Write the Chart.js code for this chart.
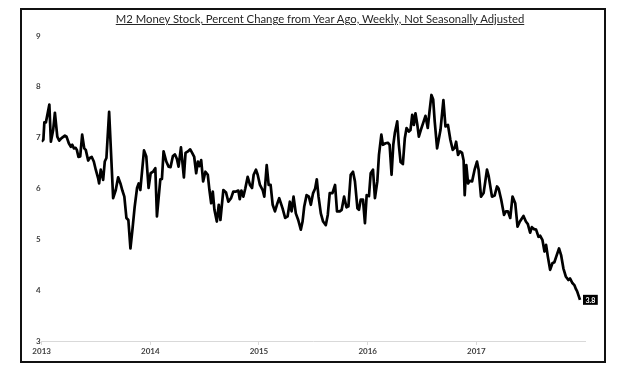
<!DOCTYPE html>
<html>
<head>
<meta charset="utf-8">
<script src="https://cdn.jsdelivr.net/npm/chart.js@4"></script>
<style>
  html, body { margin: 0; padding: 0; background: #fff; }
  #wrap { position: relative; width: 640px; height: 374px; }
  #chart { position: absolute; left: 0; top: 0; }
  #frame {
    position: absolute; left: 20px; top: 8px; width: 586px; height: 355px;
    box-sizing: border-box; border: 2px solid #111; pointer-events: none;
  }
  #title {
    position: absolute; left: 0; right: 0; top: 12px; text-align: center;
    font: 11.3px Lato, sans-serif; color: #262626; text-decoration: underline;
  }
</style>
</head>
<body>
<div id="wrap">
  <canvas id="chart" width="640" height="374"></canvas>
  <div id="frame"></div>
  <div id="title">M2 Money Stock, Percent Change from Year Ago, Weekly, Not Seasonally Adjusted</div>
</div>
<script>
// weekly observations, position in years since start of 2013
const yearOffset = [
  0.000, 0.016, 0.025, 0.039, 0.071, 0.085, 0.106, 0.122, 0.144, 0.162, 0.183, 0.214, 0.229, 0.250, 0.269, 0.282,
  0.296, 0.312, 0.324, 0.339, 0.355, 0.373, 0.392, 0.406, 0.428, 0.443, 0.461, 0.480, 0.498, 0.520, 0.529, 0.544,
  0.566, 0.581, 0.596, 0.621, 0.658, 0.682, 0.704,
  0.725, 0.743, 0.761, 0.780, 0.798, 0.817, 0.835, 0.856, 0.878, 0.893, 0.908, 0.942, 0.963, 0.984, 1.003, 1.025,
  1.046, 1.061, 1.092, 1.107, 1.122, 1.147, 1.168, 1.186, 1.208, 1.227, 1.245, 1.260, 1.282, 1.309, 1.324, 1.346,
  1.367, 1.385, 1.404, 1.422, 1.438, 1.452,
  1.468, 1.486, 1.507, 1.529, 1.544, 1.560, 1.575, 1.590, 1.612, 1.630, 1.645, 1.672, 1.697, 1.718, 1.743, 1.764,
  1.789, 1.810, 1.823, 1.838, 1.856, 1.874, 1.896, 1.917, 1.936, 1.951, 1.972, 1.988, 2.009, 2.034, 2.049, 2.071,
  2.089, 2.107, 2.126, 2.147, 2.165, 2.186,
  2.217, 2.241, 2.263, 2.284, 2.300, 2.318, 2.339, 2.361, 2.385, 2.401, 2.416, 2.438, 2.459, 2.477, 2.498, 2.517,
  2.532, 2.548, 2.569, 2.590, 2.615, 2.633, 2.651, 2.676, 2.700, 2.718, 2.743, 2.761, 2.783, 2.805, 2.823, 2.844,
  2.865, 2.883, 2.906,
  2.920, 2.936, 2.957, 2.975, 2.991, 3.012, 3.028, 3.049, 3.067, 3.089, 3.104, 3.126, 3.140, 3.165, 3.186, 3.202,
  3.220, 3.236, 3.250, 3.272, 3.287, 3.303, 3.324, 3.342, 3.358, 3.379, 3.394, 3.410, 3.425, 3.440, 3.456, 3.471,
  3.489, 3.511, 3.532, 3.553, 3.569, 3.587, 3.603, 3.617, 3.639,
  3.670, 3.697, 3.716, 3.739, 3.761, 3.783, 3.801, 3.814, 3.832, 3.850, 3.869, 3.883, 3.893, 3.908, 3.924, 3.939,
  3.961, 3.984, 4.006, 4.021, 4.043, 4.067, 4.098, 4.113, 4.144, 4.168, 4.190, 4.205, 4.229, 4.255, 4.272, 4.291,
  4.312, 4.333, 4.358, 4.379,
  4.401, 4.434, 4.456, 4.474, 4.495, 4.511, 4.532, 4.550, 4.572, 4.587, 4.608, 4.627, 4.642, 4.658, 4.679, 4.700,
  4.718, 4.740, 4.761, 4.780, 4.801, 4.823, 4.847, 4.862, 4.884, 4.902, 4.917, 4.927, 4.954
]

// M2 percent change from year ago
const m2Pct = [
  6.92, 6.96, 7.30, 7.30, 7.65, 6.92, 7.15, 7.49, 7.02, 6.94, 6.99, 7.04, 7.02, 6.89, 6.82, 6.86,
  6.79, 6.80, 6.76, 6.62, 6.63, 7.06, 6.79, 6.76, 6.55, 6.60, 6.62, 6.53, 6.37, 6.20, 6.10, 6.37,
  6.17, 6.53, 6.60, 7.51, 5.81, 5.97, 6.22,
  6.10, 5.96, 5.84, 5.42, 5.38, 4.82, 5.18, 5.64, 6.01, 6.10, 5.97, 6.75, 6.63, 6.01, 6.30, 6.33,
  6.40, 5.45, 6.18, 6.19, 6.73, 6.53, 6.43, 6.42, 6.64, 6.67, 6.58, 6.43, 6.81, 6.22, 6.70, 6.73,
  6.77, 6.70, 6.62, 6.30, 6.53, 6.44,
  6.56, 6.14, 6.33, 6.27, 5.97, 5.71, 5.94, 5.58, 5.35, 5.68, 5.38, 5.97, 5.92, 5.74, 5.81, 5.94,
  5.94, 5.96, 5.79, 5.96, 5.84, 6.00, 6.23, 6.07, 6.01, 6.27, 6.37, 6.27, 6.07, 5.97, 5.84, 6.46,
  6.07, 6.07, 5.68, 5.55, 5.68, 5.81,
  5.61, 5.42, 5.45, 5.74, 5.55, 5.84, 5.51, 5.38, 5.19, 5.35, 5.64, 5.87, 5.84, 5.68, 5.91, 6.00,
  6.18, 5.84, 5.51, 5.35, 5.28, 5.48, 5.91, 5.91, 6.07, 5.55, 5.55, 5.58, 5.84, 5.63, 5.65, 6.27,
  6.33, 6.14, 5.61,
  5.58, 5.78, 5.78, 5.32, 5.87, 5.85, 6.30, 6.37, 5.81, 6.14, 6.66, 7.06, 6.86, 6.89, 6.90, 6.86,
  6.27, 6.86, 7.09, 7.32, 6.86, 6.52, 6.48, 6.99, 7.19, 7.12, 7.15, 7.45, 7.25, 7.48, 7.27, 7.02,
  7.15, 7.29, 7.43, 7.19, 7.51, 7.84, 7.75, 7.32, 6.79,
  7.15, 7.74, 7.22, 7.25, 6.96, 6.76, 6.80, 6.92, 6.66, 6.73, 6.70, 6.55, 5.87, 6.46, 6.10, 6.15,
  6.14, 6.37, 6.53, 6.37, 5.84, 5.91, 6.37, 6.25, 5.84, 5.86, 6.04, 6.00, 5.78, 5.48, 5.55, 5.55,
  5.42, 5.84, 5.71, 5.25,
  5.35, 5.46, 5.35, 5.30, 5.13, 5.24, 5.20, 5.19, 5.05, 5.07, 4.99, 4.76, 4.89, 4.66, 4.40, 4.53,
  4.55, 4.69, 4.82, 4.69, 4.43, 4.27, 4.20, 4.23, 4.14, 4.10, 4.02, 3.98, 3.81
]

const startYear = 2013
const yearTicks = [2013, 2014, 2015, 2016, 2017]
const valueTicks = [3, 4, 5, 6, 7, 8, 9]

const tickFont = { family: 'Lato', size: 8, weight: 'bold' }

// black tag with the latest value next to the line end
const endLabel = {
  id: 'endLabel',
  afterDatasetsDraw(chart) {
    const meta = chart.getDatasetMeta(0)
    const pt = meta.data[meta.data.length - 1]
    const txt = m2Pct[m2Pct.length - 1].toFixed(1)
    const ctx = chart.ctx
    ctx.save()
    ctx.font = 'bold 7px Lato'
    const w = ctx.measureText(txt).width + 5
    ctx.fillStyle = '#000'
    ctx.fillRect(pt.x + 3, pt.y - 5, w, 10)
    ctx.fillStyle = '#fff'
    ctx.textBaseline = 'middle'
    ctx.fillText(txt, pt.x + 5.5, pt.y + 0.5)
    ctx.restore()
  }
}

new Chart(document.getElementById('chart'), {
  type: 'line',
  data: {
    datasets: [{
      data: yearOffset.map((t, i) => ({ x: startYear + t, y: m2Pct[i] })),
      borderColor: '#000',
      borderWidth: 2.7,
      pointRadius: 0,
      tension: 0,
      borderJoinStyle: 'round'
    }]
  },
  options: {
    responsive: false,
    animation: false,
    layout: { padding: { left: 35, right: 55, top: 36, bottom: 12 } },
    plugins: { legend: { display: false }, tooltip: { enabled: false } },
    scales: {
      x: {
        type: 'linear',
        min: 2013,
        max: 2018,
        afterBuildTicks: s => { s.ticks = yearTicks.map(v => ({ value: v })) },
        afterFit: s => { s.height = 21 },
        ticks: { callback: v => String(v), font: tickFont, color: '#404040', padding: 2, maxRotation: 0 },
        grid: { drawOnChartArea: false, drawTicks: true, tickLength: 4, color: '#d9d9d9' },
        border: { display: true, color: '#d9d9d9' }
      },
      y: {
        type: 'linear',
        position: 'left',
        min: 3,
        max: 9,
        afterBuildTicks: s => { s.ticks = valueTicks.map(v => ({ value: v })) },
        ticks: { callback: v => String(v), font: tickFont, color: '#404040', padding: 1 },
        grid: { display: false, drawTicks: false },
        border: { display: false }
      }
    }
  },
  plugins: [endLabel]
})
</script>
</body>
</html>
